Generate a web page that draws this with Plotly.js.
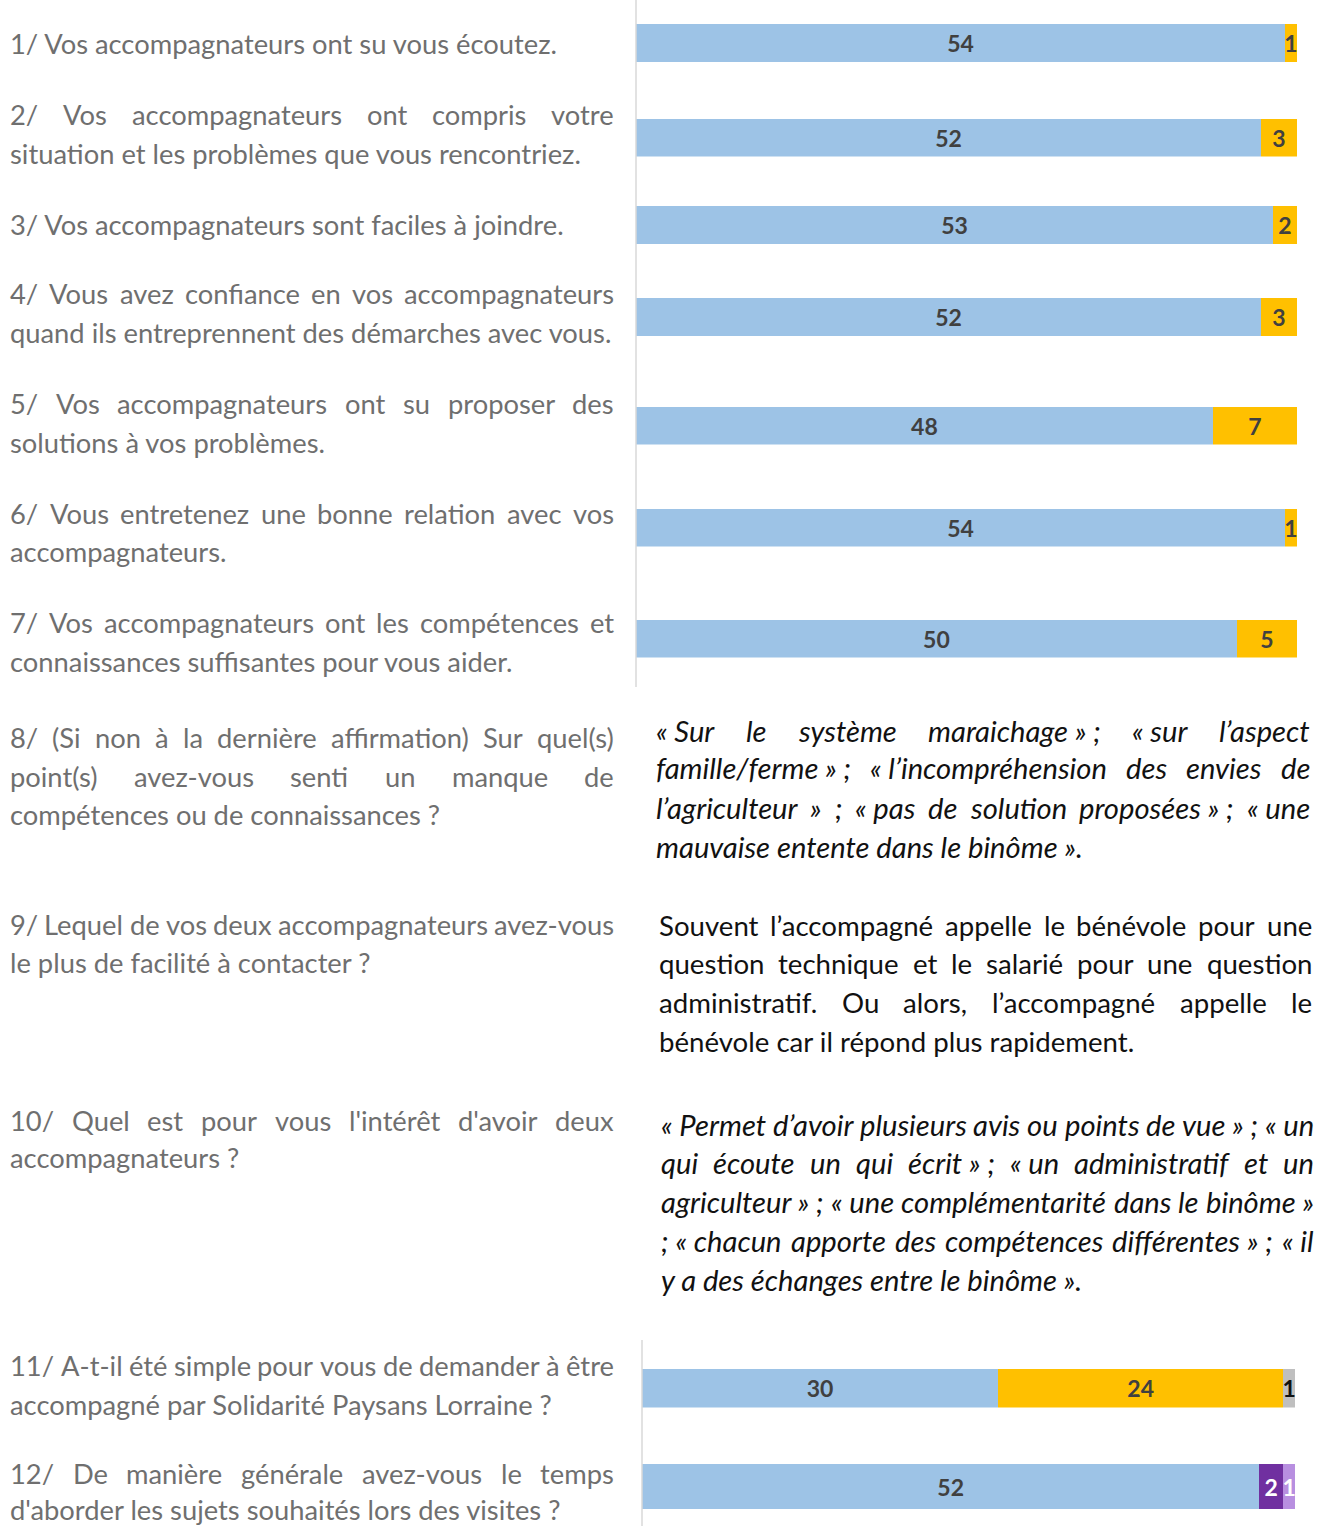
<!DOCTYPE html>
<html>
<head>
<meta charset="utf-8">
<script src="https://cdn.plot.ly/plotly-3.0.1.min.js"></script>
<style>html,body{margin:0;padding:0;background:#fff}#chart{width:1319px;height:1526px}</style>
</head>
<body>
<div id="chart"></div>
<script>
// ---------------- DATA ----------------
const barQuestions = ["Q1","Q2","Q3","Q4","Q5","Q6","Q7"];
const oui17 = [54, 52, 53, 52, 48, 54, 50];
const non17 = [1, 3, 2, 3, 7, 1, 5];

const q11Series = ["Oui", "Non", "Ne sait pas"];
const q11Values = [30, 24, 1];
const q12Series = ["Oui", "Non", "Parfois"];
const q12Values = [52, 2, 1];

const leftLines = [
  ["1/ Vos accompagnateurs ont su vous écoutez.", 44, false],
  ["2/ Vos accompagnateurs ont compris votre", 114, true],
  ["situation et les problèmes que vous rencontriez.", 153, false],
  ["3/ Vos accompagnateurs sont faciles à joindre.", 224, false],
  ["4/ Vous avez confiance en vos accompagnateurs", 294, true],
  ["quand ils entreprennent des démarches avec vous.", 333, false],
  ["5/ Vos accompagnateurs ont su proposer des", 404, true],
  ["solutions à vos problèmes.", 443, false],
  ["6/ Vous entretenez une bonne relation avec vos", 513, true],
  ["accompagnateurs.", 552, false],
  ["7/ Vos accompagnateurs ont les compétences et", 622, true],
  ["connaissances suffisantes pour vous aider.", 661, false],
  ["8/ (Si non à la dernière affirmation) Sur quel(s)", 737, true],
  ["point(s) avez-vous senti un manque de", 776, true],
  ["compétences ou de connaissances ?", 815, false],
  ["9/ Lequel de vos deux accompagnateurs avez-vous", 924, true],
  ["le plus de facilité à contacter ?", 962, false],
  ["10/ Quel est pour vous l'intérêt d'avoir deux", 1120, true],
  ["accompagnateurs ?", 1157, false],
  ["11/ A-t-il été simple pour vous de demander à être", 1365, true],
  ["accompagné par Solidarité Paysans Lorraine ?", 1404, false],
  ["12/ De manière générale avez-vous le temps", 1473, true],
  ["d'aborder les sujets souhaités lors des visites ?", 1509, false]
];

const answer8 = [
  ["«\u00a0Sur le système maraichage\u00a0»\u00a0; «\u00a0sur l’aspect", 730, true],
  ["famille/ferme\u00a0»\u00a0; «\u00a0l’incompréhension des envies de", 768, true],
  ["l’agriculteur » ; «\u00a0pas de solution proposées\u00a0»\u00a0; «\u00a0une", 807, true],
  ["mauvaise entente dans le binôme\u00a0».", 846, false]
];
const answer9 = [
  ["Souvent l’accompagné appelle le bénévole pour une", 925, true],
  ["question technique et le salarié pour une question", 963, true],
  ["administratif. Ou alors, l’accompagné appelle le", 1002, true],
  ["bénévole car il répond plus rapidement.", 1041, false]
];
const answer10 = [
  ["«\u00a0Permet d’avoir plusieurs avis ou points de vue\u00a0»\u00a0; «\u00a0un", 1124, true],
  ["qui écoute un qui écrit\u00a0»\u00a0; «\u00a0un administratif et un", 1162, true],
  ["agriculteur\u00a0»\u00a0; «\u00a0une complémentarité dans le binôme\u00a0»", 1201, true],
  [";\u00a0«\u00a0chacun apporte des compétences différentes\u00a0»\u00a0; «\u00a0il", 1240, true],
  ["y a des échanges entre le binôme\u00a0».", 1279, false]
];

// ---------------- STYLE / LAYOUT ----------------
const W = 1319, H = 1526;
const FAMILY = "Lato";
const px = x => x / W;
const py = y => 1 - y / H;
const BLUE = "#9dc3e6", YELLOW = "#ffc000", GREY = "#bfbfbf", PURPLE = "#7030a0", LPURPLE = "#b88fe0";
const LEFT_COLOR = "#6f6f6f", RIGHT_COLOR = "#111111", LABEL_COLOR = "#404040";

const canvas = document.createElement("canvas");
const ctx = canvas.getContext("2d");
function measure(text, size, italic) {
  ctx.font = (italic ? "italic " : "") + "400 " + size + "px " + FAMILY;
  return ctx.measureText(text).width;
}
function fitSize(text, target, italic) {
  return 100 * target / measure(text, 100, italic);
}
const leftSize = fitSize("3/ Vos accompagnateurs sont faciles à joindre.", 555, false);
const rightSize = fitSize("bénévole car il répond plus rapidement.", 476, false);
const rightItSize = fitSize("mauvaise entente dans le binôme\u00a0».", 427, true);

const annotations = [];
function addBlock(lines, x0, x1, size, italic, color) {
  const font = {family: FAMILY, size: size, color: color, style: italic ? "italic" : "normal"};
  lines.forEach(([text, y, just]) => {
    const words = text.split(" ");
    if (!just || words.length < 2) {
      annotations.push({text: text, x: px(x0), y: py(y), xref: "paper", yref: "paper",
        xanchor: "left", yanchor: "middle", showarrow: false, font: font, borderpad: 0, borderwidth: 0});
      return;
    }
    const widths = words.map(w => measure(w, size, italic));
    const total = widths.reduce((a, b) => a + b, 0);
    const gap = (x1 - x0 - total) / (words.length - 1);
    let cx = x0;
    words.forEach((w, i) => {
      annotations.push({text: w, x: px(cx), y: py(y), xref: "paper", yref: "paper",
        xanchor: "left", yanchor: "middle", showarrow: false, font: font, borderpad: 0, borderwidth: 0});
      cx += widths[i] + gap;
    });
  });
}
addBlock(leftLines, 10, 614, leftSize, false, LEFT_COLOR);
addBlock(answer8, 656, 1310, rightItSize, true, RIGHT_COLOR);
addBlock(answer9, 659, 1312, rightSize, false, RIGHT_COLOR);
addBlock(answer10, 661, 1314, rightItSize, true, RIGHT_COLOR);

const rowCenters = [43, 137.5, 225, 317, 425.5, 527.5, 638.5];
const rowH = 38;
const row11 = [1388, 39], row12 = [1486.5, 45];

const layout = {
  width: W, height: H,
  margin: {l: 0, r: 0, t: 0, b: 0, pad: 0},
  paper_bgcolor: "#ffffff", plot_bgcolor: "rgba(0,0,0,0)",
  showlegend: false, barmode: "stack", bargap: 0,
  hovermode: false,
  font: {family: FAMILY},
  annotations: annotations,
  xaxis: {domain: [px(636), px(1297)], range: [0, 55], visible: false, fixedrange: true},
  xaxis2: {domain: [px(642), px(1295)], range: [0, 55], visible: false, fixedrange: true, anchor: "y8"},
  shapes: [
    {type: "line", xref: "paper", yref: "paper", x0: px(636), x1: px(636), y0: py(0), y1: py(687), line: {color: "#d9d9d9", width: 1.5}},
    {type: "line", xref: "paper", yref: "paper", x0: px(642), x1: px(642), y0: py(1340), y1: py(1526), line: {color: "#d9d9d9", width: 1.5}}
  ]
};

const traces = [];
const labelFont = (c) => ({family: FAMILY, size: 23, color: c, weight: "bold"});
function barTrace(name, value, cat, color, xa, ya, tcolor) {
  return {type: "bar", orientation: "h", name: name, x: [value], y: [cat], xaxis: xa, yaxis: ya,
    width: 1, marker: {color: color, line: {width: 0}},
    text: [String(value)], textposition: "inside", insidetextanchor: "middle", constraintext: "none",
    textfont: labelFont(tcolor), cliponaxis: false, hoverinfo: "skip"};
}
barQuestions.forEach((q, i) => {
  const yName = i === 0 ? "y" : "y" + (i + 1);
  const key = i === 0 ? "yaxis" : "yaxis" + (i + 1);
  const c = rowCenters[i];
  layout[key] = {domain: [py(c + rowH / 2), py(c - rowH / 2)], type: "category", range: [-0.5, 0.5],
    visible: false, fixedrange: true, anchor: "x"};
  traces.push(barTrace("Oui", oui17[i], q, BLUE, "x", yName, LABEL_COLOR));
  traces.push(barTrace("Non", non17[i], q, YELLOW, "x", yName, LABEL_COLOR));
});
layout.yaxis8 = {domain: [py(row11[0] + row11[1] / 2), py(row11[0] - row11[1] / 2)], type: "category", range: [-0.5, 0.5], visible: false, fixedrange: true, anchor: "x2"};
layout.yaxis9 = {domain: [py(row12[0] + row12[1] / 2), py(row12[0] - row12[1] / 2)], type: "category", range: [-0.5, 0.5], visible: false, fixedrange: true, anchor: "x2"};
const c11 = [BLUE, YELLOW, GREY], t11 = [LABEL_COLOR, LABEL_COLOR, "#111111"];
const c12 = [BLUE, PURPLE, LPURPLE], t12 = [LABEL_COLOR, "#ffffff", "#ffffff"];
q11Series.forEach((s, i) => traces.push(barTrace(s, q11Values[i], "Q11", c11[i], "x2", "y8", t11[i])));
q12Series.forEach((s, i) => traces.push(barTrace(s, q12Values[i], "Q12", c12[i], "x2", "y9", t12[i])));

Plotly.newPlot("chart", traces, layout, {staticPlot: true, displayModeBar: false});
</script>
</body>
</html>
